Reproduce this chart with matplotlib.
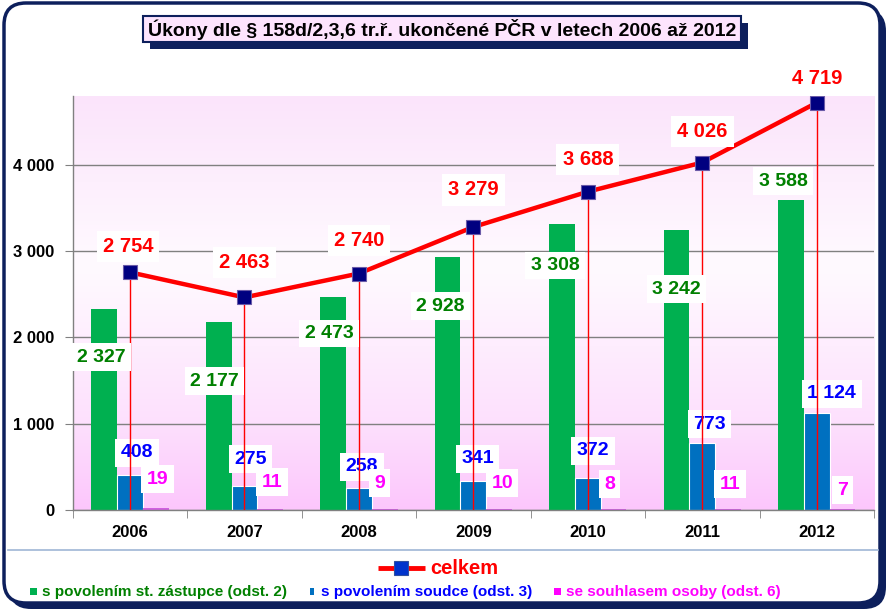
import numpy as np
import matplotlib
matplotlib.use("Agg")
import matplotlib.pyplot as plt
from matplotlib.patches import FancyBboxPatch, Rectangle
from matplotlib import font_manager
from matplotlib.colors import to_rgb

# ---------------------------------------------------------
# Data
# ---------------------------------------------------------

years = ["2006", "2007", "2008", "2009", "2010", "2011", "2012"]
celkem = [2754, 2463, 2740, 3279, 3688, 4026, 4719]
zastupce = [2327, 2177, 2473, 2928, 3308, 3242, 3588]
soudce = [408, 275, 258, 341, 372, 773, 1124]
osoba = [19, 11, 9, 10, 8, 11, 7]

title = "Úkony dle § 158d/2,3,6 tr.ř. ukončené PČR v letech 2006 až 2012"
legend_line = "celkem"
legend_bars = ["s povolením st. zástupce (odst. 2)",
               "s povolením soudce (odst. 3)",
               "se souhlasem osoby (odst. 6)"]

# label offsets in pixels (dx, dy) from the value point
red_off = [(-2, 26), (0, 35), (0, 33), (0, 37), (0, 32), (0, 31), (0, 24)]
green_off = [(-3, -48), (-4, -59), (-4, -37), (-7, -49), (-7, -41), (0, -59), (-8, 19)]
blue_off = [(7, 22), (6, 27), (3, 21), (4, 22), (5, 27), (7, 19), (15, 19)]
mag_off = [(2, 29), (2, 27), (-5, 26), (3, 26), (-4, 25), (2, 25), (0, 19)]

GREEN = "#00b050"
BLUE = "#0070c0"
MAGENTA = "#ff00ff"
NAVY = "#0d1f5c"

names = {f.name for f in font_manager.fontManager.ttflist}
FONT = "Liberation Sans" if "Liberation Sans" in names else "DejaVu Sans"

plt.rcParams["font.family"] = FONT
plt.rcParams["font.weight"] = "bold"

W, H = 887, 610
fig = plt.figure(figsize=(W / 100, H / 100), dpi=100)
fig.patch.set_facecolor("white")

# ---------------------------------------------------------
# Frame, title and legend in pixel coordinates
# ---------------------------------------------------------

bg = fig.add_axes([0, 0, 1, 1], zorder=0)
bg.set_xlim(0, W)
bg.set_ylim(H, 0)
bg.axis("off")

bg.add_patch(FancyBboxPatch((9, 9), W - 10, H - 10,
                            boxstyle="round,pad=0,rounding_size=22",
                            fc=NAVY, ec="none"))
bg.add_patch(FancyBboxPatch((4, 3), 876, 600,
                            boxstyle="round,pad=0,rounding_size=22",
                            fc="white", ec=NAVY, lw=2.5))

bg.add_patch(Rectangle((150, 23), 598, 26, fc=NAVY, ec="none"))
bg.add_patch(Rectangle((143, 16), 598, 26, fc="#fde4fd", ec=NAVY, lw=1.5))
bg.text(442, 29.5, title, fontsize=14, weight="bold",
        ha="center", va="center", color="black", zorder=5)

bg.plot([8, 878], [550, 550], color="#9fb6d6", lw=1.2)

bg.plot([378, 425], [568, 568], color="red", lw=3.5, solid_capstyle="butt")
bg.plot([401.5], [568], marker="s", ms=9.5, mfc="#0033cc", mec="#3050a0", mew=0.8)
bg.text(430, 568, legend_line, fontsize=14.5, color="red", ha="left", va="center")

leg_x = [(30, 42), (310, 321), (554, 566)]
leg_c = [(GREEN, "#008000"), (BLUE, "#0000ff"), (MAGENTA, "#ff00ff")]
for (sx, tx), (sc, tc), lab in zip(leg_x, leg_c, legend_bars):
    bg.add_patch(Rectangle((sx, 588), 7 if sc != BLUE else 4, 7, fc=sc, ec="none"))
    bg.text(tx, 592, lab, fontsize=11, color=tc, ha="left", va="center")

# ---------------------------------------------------------
# Chart
# ---------------------------------------------------------

ax = fig.add_axes([72.7 / W, 1 - 510 / H, (874 - 72.7) / W, (510 - 95.7) / H], zorder=1)
ax.patch.set_alpha(0)

# background gradient
stops_v = [0, 1000, 2800, 4800]
stops_c = ["#fcc6fc", "#fde0fd", "#fffaff", "#fbe4fb"]
vv = np.linspace(0, 4800, 300)
grad = np.zeros((len(vv), 1, 3))
for k in range(3):
    grad[:, 0, k] = np.interp(vv, stops_v, [to_rgb(c)[k] for c in stops_c])
ax.imshow(grad, extent=[-0.5, 6.5, 0, 4800], origin="lower", aspect="auto",
          zorder=0, interpolation="bilinear")

x = np.arange(len(years))
bw = 0.225

ax.bar(x - bw, zastupce, width=bw, color=GREEN, zorder=2)
ax.bar(x, soudce, width=bw, color=BLUE, edgecolor="white", lw=0.8, zorder=2)
ax.bar(x + bw, osoba, width=bw, color="#d060e0", zorder=2)

lbl = dict(ha="center", va="center", fontsize=14, textcoords="offset pixels",
           annotation_clip=False)


def fmt(v):
    return f"{v:,}".replace(",", " ")


for i in range(len(years)):
    ax.annotate(fmt(zastupce[i]), (x[i] - bw, zastupce[i]), xytext=green_off[i],
                color="#008000", zorder=5,
                bbox=dict(boxstyle="square,pad=0.28", fc="white", ec="none"), **lbl)
    ax.annotate(fmt(soudce[i]), (x[i], soudce[i]), xytext=blue_off[i],
                color="#0000ff", zorder=3,
                bbox=dict(boxstyle="square,pad=0.28", fc="white", ec="none"), **lbl)
    ax.annotate(fmt(osoba[i]), (x[i] + bw, osoba[i]), xytext=mag_off[i],
                color="#ff00ff", zorder=3,
                bbox=dict(boxstyle="square,pad=0.28", fc="white", ec="none"), **lbl)

ax.vlines(x, 0, celkem, color="red", lw=1.0, zorder=4)
ax.plot(x, celkem, color="red", lw=3.2, zorder=6,
        marker="s", ms=10, mfc="#000080", mec="#6a5aa8", mew=0.8)

for i in range(len(years)):
    ax.annotate(fmt(celkem[i]), (x[i], celkem[i]), xytext=red_off[i],
                color="red", zorder=7,
                bbox=dict(boxstyle="square,pad=0.3", fc="white", ec="none"),
                **dict(lbl, fontsize=14.5))

ax.set_xlim(-0.5, 6.5)
ax.set_ylim(0, 4800)

ax.set_yticks([0, 1000, 2000, 3000, 4000])
ax.set_yticklabels([fmt(v) for v in [0, 1000, 2000, 3000, 4000]])
ax.set_xticks(x)
ax.set_xticklabels(years)
ax.set_xticks(np.arange(-0.5, 7, 1), minor=True)

ax.tick_params(axis="y", length=6, color="#808080", pad=7, labelsize=12)
ax.tick_params(axis="x", which="major", length=0, pad=11, labelsize=12)
ax.tick_params(axis="x", which="minor", length=6, color="#808080")

ax.yaxis.grid(True, color="#808080", lw=1.0)
ax.set_axisbelow(True)
for s in ["top", "right"]:
    ax.spines[s].set_visible(False)
for s in ["left", "bottom"]:
    ax.spines[s].set_color("#808080")
    ax.spines[s].set_linewidth(1.0)

fig.savefig("out.png", dpi=100)
